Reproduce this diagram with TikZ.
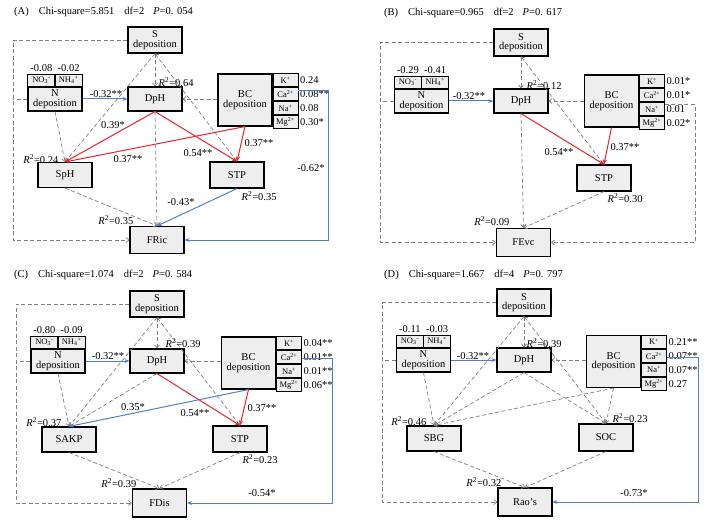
\documentclass[tikz,border=0pt]{standalone}
\usepackage{fontspec}
\setmainfont{Liberation Serif}
\usepackage{tikz}
\usetikzlibrary{arrows.meta, positioning}

\definecolor{boxgray}{HTML}{EEEEEE}
\definecolor{nsgray}{HTML}{808080}
\definecolor{posred}{HTML}{E8232B}
\definecolor{negblue}{HTML}{4F7FCC}

\tikzset{
  box/.style={draw, line width=1.1pt, fill=boxgray, minimum width=54pt, minimum height=24pt,
    inner sep=0pt, align=center, font=\fontsize{10.5}{9.5}\selectfont},
  ion/.style={draw, line width=0.9pt, fill=boxgray, minimum width=27pt, minimum height=12pt,
    inner sep=0pt, font=\fontsize{8.5}{9}\selectfont},
  bcion/.style={ion, minimum width=25pt, minimum height=13pt},
  val/.style={inner sep=0.5pt},
  ttl/.style={anchor=west, inner sep=0pt},
  nsline/.style={draw=nsgray, line width=0.7pt, dash pattern=on 4pt off 2.5pt},
  nsarr/.style={nsline, -{Straight Barb[length=3pt,width=5pt]}},
  nsboth/.style={nsline, {Straight Barb[length=3pt,width=5pt]}-{Straight Barb[length=3pt,width=5pt]}},
  posarr/.style={draw=posred, line width=1pt, -{Stealth[length=5pt,width=4pt]}},
  negarr/.style={draw=negblue, line width=1pt, -{Stealth[length=5pt,width=4pt]}},
}

\begin{document}
\begin{tikzpicture}[x=1pt, y=-1pt, font=\fontsize{10.5}{12}\selectfont]
  \useasboundingbox (0,0) rectangle (709,524);

  % (A) FRic
  \node[ttl] (aTitle) at (14,12) {(A)\hspace{10pt}Chi-square=5.851\hspace{10pt}df=2\hspace{9pt}\textit{P}=0. 054};
  \node[box, minimum height=26pt] (aS) at (155,40) {S\\deposition};
  \node[box] (aN) at (55,99) {N\\deposition};
  \node[ion, above right=0pt of aN.north west] (aNO) {NO\textsubscript{3}\textsuperscript{-}};
  \node[ion, above left=0pt of aN.north east] (aNH) {NH\textsubscript{4}\textsuperscript{+}};
  \node[val, above=1pt of aNO] (aNOv) {-0.08};
  \node[val, above=1pt of aNH] (aNHv) {-0.02};
  \node[box] (aDpH) at (155,99) {DpH};
  \node[box, minimum height=52pt] (aBC) at (245,100) {BC\\deposition};
  \node[bcion, below right=0pt of aBC.north east] (aK) {K\textsuperscript{+}};
  \node[bcion, below=0pt of aK] (aCa) {Ca\textsuperscript{2+}};
  \node[bcion, below=0pt of aCa] (aNa) {Na\textsuperscript{+}};
  \node[bcion, below=0pt of aNa] (aMg) {Mg\textsuperscript{2+}};
  \node[val, right=1pt of aK] (aKv) {0.24};
  \node[val, right=1pt of aCa] (aCav) {0.08**};
  \node[val, right=1pt of aNa] (aNav) {0.08};
  \node[val, right=1pt of aMg] (aMgv) {0.30*};
  \node[box, minimum height=25pt] (aSpH) at (65,175) {SpH};
  \node[box, minimum height=26pt] (aSTP) at (237,175) {STP};
  \node[box, minimum height=27pt] (aFR) at (157,240) {FRic};
  \coordinate (aL) at (13,240);
  \coordinate (aR) at (328,240);

  \draw[negarr] (aN) -- (aDpH);
  \draw[nsarr] (aBC.west |- aDpH) -- (aDpH);
  \draw[nsarr] (aS) -- (aDpH);
  \draw[nsarr] (aN.south) -- (aSpH.north);
  \draw[nsarr] (aS.south) -- (aSpH.north);
  \draw[nsboth] (aS.south) -- (aSTP.north);
  \draw[posarr] (aDpH.south) -- (aSpH.north);
  \draw[posarr] (aBC.south) -- (aSpH.north);
  \draw[posarr] (aDpH.south) -- (aSTP.north);
  \draw[posarr] (aBC.south) -- (aSTP.north);
  \draw[nsarr] (aDpH.south) -- (aFR.north);
  \draw[nsarr] (aSpH.south) -- (aFR.north);
  \draw[negarr] (aSTP.south) -- (aFR.north);
  \draw[nsarr] (aS.west) -| (aL) -- (aFR);
  \draw[nsline] (aN.west) -- (aN.west -| aL);
  \draw[negarr] ([yshift=4pt]aCa.east) -| (aR) -- (aFR);

  \node[val, anchor=west] (aR2d) at (158,82) {\textit{R}\textsuperscript{2}=0.64};
  \node[val, anchor=east] (aR2s) at (59,159) {\textit{R}\textsuperscript{2}=0.24};
  \node[val, anchor=west] (aR2t) at (241,196) {\textit{R}\textsuperscript{2}=0.35};
  \node[val, anchor=east] (aR2f) at (134,220) {\textit{R}\textsuperscript{2}=0.35};
  \node[val] (aNDp) at (106,94) {-0.32**};
  \node[val] (aDSp) at (113,125) {0.39*};
  \node[val] (aBSp) at (128,159) {0.37**};
  \node[val] (aDST) at (198,153) {0.54**};
  \node[val] (aBST) at (259,143) {0.37**};
  \node[val] (aSTF) at (181,202) {-0.43*};
  \node[val] (aBFR) at (311,168) {-0.62*};

  % (B) FEvc
  \node[ttl] (bTitle) at (384,13) {(B)\hspace{10pt}Chi-square=0.965\hspace{10pt}df=2\hspace{9pt}\textit{P}=0. 617};
  \node[box, minimum height=27pt] (bS) at (521,42.5) {S\\deposition};
  \node[box] (bN) at (421.5,101) {N\\deposition};
  \node[ion, above right=0pt of bN.north west] (bNO) {NO\textsubscript{3}\textsuperscript{-}};
  \node[ion, above left=0pt of bN.north east] (bNH) {NH\textsubscript{4}\textsuperscript{+}};
  \node[val, above=1pt of bNO] (bNOv) {-0.29};
  \node[val, above=1pt of bNH] (bNHv) {-0.41};
  \node[box] (bDpH) at (521,101) {DpH};
  \node[box, minimum height=52pt] (bBC) at (611.5,101) {BC\\deposition};
  \node[bcion, below right=0pt of bBC.north east] (bK) {K\textsuperscript{+}};
  \node[bcion, below=0pt of bK] (bCa) {Ca\textsuperscript{2+}};
  \node[bcion, below=0pt of bCa] (bNa) {Na\textsuperscript{+}};
  \node[bcion, below=0pt of bNa] (bMg) {Mg\textsuperscript{2+}};
  \node[val, right=1pt of bK] (bKv) {0.01*};
  \node[val, right=1pt of bCa] (bCav) {0.01*};
  \node[val, right=1pt of bNa] (bNav) {0.01};
  \node[val, right=1pt of bMg] (bMgv) {0.02*};
  \node[box, minimum height=26pt] (bSTP) at (604,178) {STP};
  \node[box, minimum height=28pt] (bFE) at (523.5,242.5) {FEvc};
  \coordinate (bL) at (380,242.5);
  \coordinate (bR) at (695,242.5);

  \draw[negarr] (bN) -- (bDpH);
  \draw[nsarr] (bBC.west |- bDpH) -- (bDpH);
  \draw[nsarr] (bS) -- (bDpH);
  \draw[nsboth] (bS.south) -- (bSTP.north);
  \draw[posarr] (bDpH.south) -- (bSTP.north);
  \draw[posarr] (bBC.south) -- (bSTP.north);
  \draw[nsarr] (bDpH.south) -- (bFE.north);
  \draw[nsarr] (bSTP.south) -- (bFE.north);
  \draw[nsarr] (bS.west) -| (bL) -- (bFE);
  \draw[nsline] (bN.west) -- (bN.west -| bL);
  \draw[nsarr] ([yshift=-2pt]bCa.south east) -| (bR) -- (bFE);

  \node[val, anchor=west] (bR2d) at (526,85) {\textit{R}\textsuperscript{2}=0.12};
  \node[val, anchor=west] (bR2t) at (607,198) {\textit{R}\textsuperscript{2}=0.30};
  \node[val, anchor=east] (bR2f) at (510,221) {\textit{R}\textsuperscript{2}=0.09};
  \node[val] (bNDp) at (469,96) {-0.32**};
  \node[val] (bDST) at (559,152) {0.54**};
  \node[val] (bBST) at (625,147) {0.37**};

  % (C) FDis
  \node[ttl] (cTitle) at (14,275) {(C)\hspace{10pt}Chi-square=1.074\hspace{10pt}df=2\hspace{9pt}\textit{P}=0. 584};
  \node[box, minimum height=26pt] (cS) at (157,304) {S\\deposition};
  \node[box] (cN) at (58,361) {N\\deposition};
  \node[ion, above right=0pt of cN.north west] (cNO) {NO\textsubscript{3}\textsuperscript{-}};
  \node[ion, above left=0pt of cN.north east] (cNH) {NH\textsubscript{4}\textsuperscript{+}};
  \node[val, above=1pt of cNO] (cNOv) {-0.80};
  \node[val, above=1pt of cNH] (cNHv) {-0.09};
  \node[box] (cDpH) at (157,361) {DpH};
  \node[box, minimum height=52pt] (cBC) at (248.5,363) {BC\\deposition};
  \node[bcion, below right=0pt of cBC.north east] (cK) {K\textsuperscript{+}};
  \node[bcion, below=0pt of cK] (cCa) {Ca\textsuperscript{2+}};
  \node[bcion, below=0pt of cCa] (cNa) {Na\textsuperscript{+}};
  \node[bcion, below=0pt of cNa] (cMg) {Mg\textsuperscript{2+}};
  \node[val, right=1pt of cK] (cKv) {0.04**};
  \node[val, right=1pt of cCa] (cCav) {0.01**};
  \node[val, right=1pt of cNa] (cNav) {0.01**};
  \node[val, right=1pt of cMg] (cMgv) {0.06**};
  \node[box, minimum height=25pt] (cSA) at (69,439.5) {SAKP};
  \node[box, minimum height=26pt] (cSTP) at (240,439) {STP};
  \node[box, minimum height=28pt] (cFD) at (159.5,503) {FDis};
  \coordinate (cL) at (16,503);
  \coordinate (cR) at (332,503);

  \draw[negarr] (cN) -- (cDpH);
  \draw[nsarr] (cBC.west |- cDpH) -- (cDpH);
  \draw[nsarr] (cS) -- (cDpH);
  \draw[nsarr] (cN.south) -- (cSA.north);
  \draw[nsarr] (cS.south) -- (cSA.north);
  \draw[nsarr] (cDpH.south) -- (cSA.north);
  \draw[negarr] (cBC.south) -- (cSA.north);
  \draw[nsboth] (cS.south) -- (cSTP.north);
  \draw[posarr] (cDpH.south) -- (cSTP.north);
  \draw[posarr] (cBC.south) -- (cSTP.north);
  \draw[nsarr] (cSA.south) -- (cFD.north);
  \draw[nsarr] (cSTP.south) -- (cFD.north);
  \draw[nsarr] (cS.west) -| (cL) -- (cFD);
  \draw[nsline] (cN.west) -- (cN.west -| cL);
  \draw[negarr] ([yshift=-1pt]cCa.east) -| (cR) -- (cFD);

  \node[val, anchor=west] (cR2d) at (165,343) {\textit{R}\textsuperscript{2}=0.39};
  \node[val, anchor=east] (cR2s) at (62,422) {\textit{R}\textsuperscript{2}=0.37};
  \node[val, anchor=west] (cR2t) at (242,459) {\textit{R}\textsuperscript{2}=0.23};
  \node[val, anchor=east] (cR2f) at (137,483) {\textit{R}\textsuperscript{2}=0.39};
  \node[val] (cNDp) at (108,356) {-0.32**};
  \node[val] (cBSA) at (133,407) {0.35*};
  \node[val] (cDST) at (195,413) {0.54**};
  \node[val] (cBST) at (262,408) {0.37**};
  \node[val] (cBFD) at (262,493) {-0.54*};

  % (D) Rao's
  \node[ttl] (dTitle) at (384,275) {(D)\hspace{10pt}Chi-square=1.667\hspace{10pt}df=4\hspace{9pt}\textit{P}=0. 797};
  \node[box, minimum height=27pt] (dS) at (524,302.5) {S\\deposition};
  \node[box] (dN) at (423.5,360) {N\\deposition};
  \node[ion, above right=0pt of dN.north west] (dNO) {NO\textsubscript{3}\textsuperscript{-}};
  \node[ion, above left=0pt of dN.north east] (dNH) {NH\textsubscript{4}\textsuperscript{+}};
  \node[val, above=1pt of dNO] (dNOv) {-0.11};
  \node[val, above=1pt of dNH] (dNHv) {-0.03};
  \node[box] (dDpH) at (524,360) {DpH};
  \node[box, minimum height=52pt] (dBC) at (613.5,361.5) {BC\\deposition};
  \node[bcion, below right=0pt of dBC.north east] (dK) {K\textsuperscript{+}};
  \node[bcion, below=0pt of dK] (dCa) {Ca\textsuperscript{2+}};
  \node[bcion, below=0pt of dCa] (dNa) {Na\textsuperscript{+}};
  \node[bcion, below=0pt of dNa] (dMg) {Mg\textsuperscript{2+}};
  \node[val, right=1pt of dK] (dKv) {0.21**};
  \node[val, right=1pt of dCa] (dCav) {0.07**};
  \node[val, right=1pt of dNa] (dNav) {0.07**};
  \node[val, right=1pt of dMg] (dMgv) {0.27};
  \node[box, minimum height=25pt] (dSBG) at (434,438.5) {SBG};
  \node[box, minimum height=27pt] (dSOC) at (606,437.5) {SOC};
  \node[box, minimum height=28pt] (dRao) at (525,502) {Rao’s};
  \coordinate (dL) at (382,502);
  \coordinate (dR) at (698,502);

  \draw[negarr] (dN) -- (dDpH);
  \draw[nsarr] (dBC.west |- dDpH) -- (dDpH);
  \draw[nsarr] (dS) -- (dDpH);
  \draw[nsarr] (dN.south) -- (dSBG.north);
  \draw[nsarr] (dS.south) -- (dSBG.north);
  \draw[nsarr] (dDpH.south) -- (dSBG.north);
  \draw[nsarr] (dBC.south) -- (dSBG.north);
  \draw[nsboth] (dS.south) -- (dSOC.north);
  \draw[nsarr] (dDpH.south) -- (dSOC.north);
  \draw[nsarr] (dBC.south) -- (dSOC.north);
  \draw[nsarr] (dSBG.south) -- (dRao.north);
  \draw[nsarr] (dSOC.south) -- (dRao.north);
  \draw[nsarr] (dS.west) -| (dL) -- (dRao);
  \draw[nsline] (dN.west) -- (dN.west -| dL);
  \draw[negarr] ([yshift=-2pt]dCa.east) -| (dR) -- (dRao);

  \node[val, anchor=west] (dR2d) at (526,343) {\textit{R}\textsuperscript{2}=0.39};
  \node[val, anchor=east] (dR2s) at (427,421) {\textit{R}\textsuperscript{2}=0.46};
  \node[val, anchor=west] (dR2t) at (612,418) {\textit{R}\textsuperscript{2}=0.23};
  \node[val, anchor=east] (dR2f) at (502,482) {\textit{R}\textsuperscript{2}=0.32};
  \node[val] (dNDp) at (473,356) {-0.32**};
  \node[val] (dBRa) at (634,493) {-0.73*};
\end{tikzpicture}
\end{document}
